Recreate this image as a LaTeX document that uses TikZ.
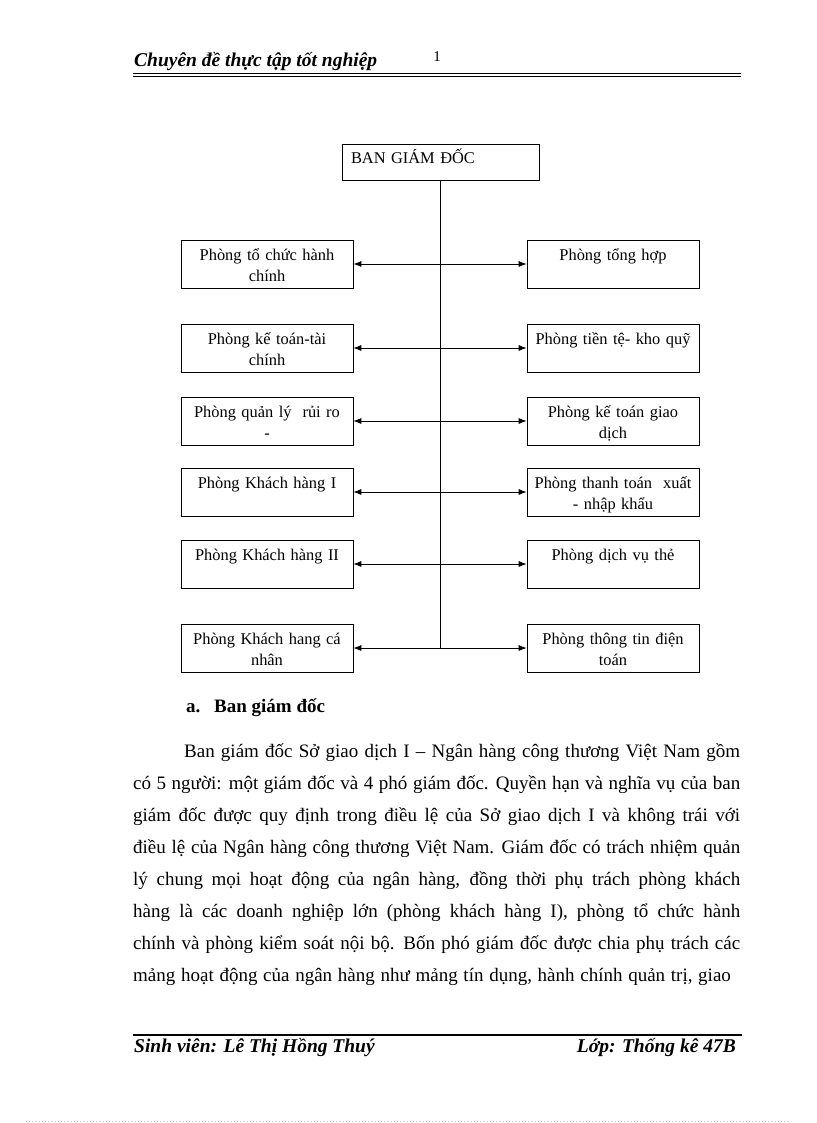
\documentclass[tikz,border=0pt]{standalone}
\usepackage{fontspec}
\setmainfont{Liberation Serif}
\usetikzlibrary{arrows.meta}
\newcommand\bodyfont{\fontsize{19}{32}\selectfont\spaceskip=0.3em plus 1em minus 0.08em\relax}
\tikzset{
  dept/.style={draw, line width=0.7pt, minimum width=172pt, minimum height=48pt, text width=160pt, align=center, inner xsep=6pt, inner ysep=0pt, text height=20pt, text depth=28pt, font=\fontsize{16.4}{21}\selectfont},
  link/.style={<->, >={Latex[length=8pt,width=6pt]}, line width=0.8pt},
  pagefoot/.style={inner sep=0pt, font=\fontsize{19.5}{22}\selectfont\bfseries\itshape},
}
\begin{document}
\begin{tikzpicture}[x=1pt, y=-1pt]
    \useasboundingbox (0,0) rectangle (816,1123);
    % header and footer of the page
    \node[pagefoot, anchor=base west] (head) at (134, 67) {Chuyên đề thực tập tốt nghiệp};
    \node[inner sep=0pt, anchor=base, font=\fontsize{15}{18}\selectfont] (pageno) at (437, 62) {1};
    \draw[line width=1.1pt] (133, 73.7) -- (741, 73.7);
    \draw[line width=1.1pt] (133, 76.5) -- (741, 76.5);
    \draw[line width=1.8pt] (133, 1035) -- (742, 1035);
    \node[pagefoot, anchor=base west] (student) at (134, 1052) {Sinh viên: Lê Thị Hồng Thuý};
    \node[pagefoot, anchor=base east] (class) at (736, 1052) {Lớp: Thống kê 47B};
    \draw[gray!45, line width=0.8pt, dash pattern=on 1pt off 2.2pt] (26, 1121.5) -- (790, 1121.5);
    % organisation chart
    \node[draw, line width=0.7pt, minimum width=197pt, minimum height=36pt, text width=179pt, align=left, inner xsep=9pt, inner ysep=0pt, text height=20pt, text depth=16pt, font=\fontsize{16.4}{21}\selectfont] (ban) at (440.5, 162) {BAN GIÁM ĐỐC};
    \node[dept] (l1) at (267, 264) {Phòng tổ chức hành\\chính};
    \node[dept] (l2) at (267, 348) {Phòng kế toán-tài\\chính};
    \node[dept] (l3) at (267, 421) {Phòng quản lý \ rủi ro\\-};
    \node[dept] (l4) at (267, 492) {Phòng Khách hàng I};
    \node[dept] (l5) at (267, 564) {Phòng Khách hàng II};
    \node[dept] (l6) at (267, 648) {Phòng Khách hang cá\\nhân};
    \node[dept] (r1) at (613, 264) {Phòng tổng hợp};
    \node[dept] (r2) at (613, 348) {Phòng tiền tệ- kho quỹ};
    \node[dept] (r3) at (613, 421) {Phòng kế toán giao\\dịch};
    \node[dept] (r4) at (613, 492) {Phòng thanh toán \ xuất\\- nhập khẩu};
    \node[dept] (r5) at (613, 564) {Phòng dịch vụ thẻ};
    \node[dept] (r6) at (613, 648) {Phòng thông tin điện\\toán};
    \coordinate (trunkend) at (ban.south |- l6.east);
    \draw[line width=1.8pt] (ban.south) -- (trunkend);
    \foreach \i in {1,...,6}
        \draw[link] (l\i.east) -- (r\i.west);
    % text below the chart
    \node[inner sep=0pt, anchor=base west, font=\fontsize{19}{32}\selectfont\bfseries] (title) at (186, 712) {\makebox[28pt][l]{a.}Ban giám đốc};
    \node[inner sep=0pt, anchor=base west, text width=607pt, align=justify, font=\bodyfont] (para) at (133, 757) {\hspace*{51pt}Ban giám đốc Sở giao dịch I – Ngân hàng công thương Việt Nam gồm\linebreak
        có 5 người: một giám đốc và 4 phó giám đốc. Quyền hạn và nghĩa vụ của ban\linebreak
        giám đốc được quy định trong điều lệ của Sở giao dịch I và không trái với\linebreak
        điều lệ của Ngân hàng công thương Việt Nam. Giám đốc có trách nhiệm quản\linebreak
        lý chung mọi hoạt động của ngân hàng, đồng thời phụ trách phòng khách\linebreak
        hàng là các doanh nghiệp lớn (phòng khách hàng I), phòng tổ chức hành\linebreak
        chính và phòng kiểm soát nội bộ. Bốn phó giám đốc được chia phụ trách các\linebreak
        mảng hoạt động của ngân hàng như mảng tín dụng, hành chính quản trị, giao};
\end{tikzpicture}
\end{document}
